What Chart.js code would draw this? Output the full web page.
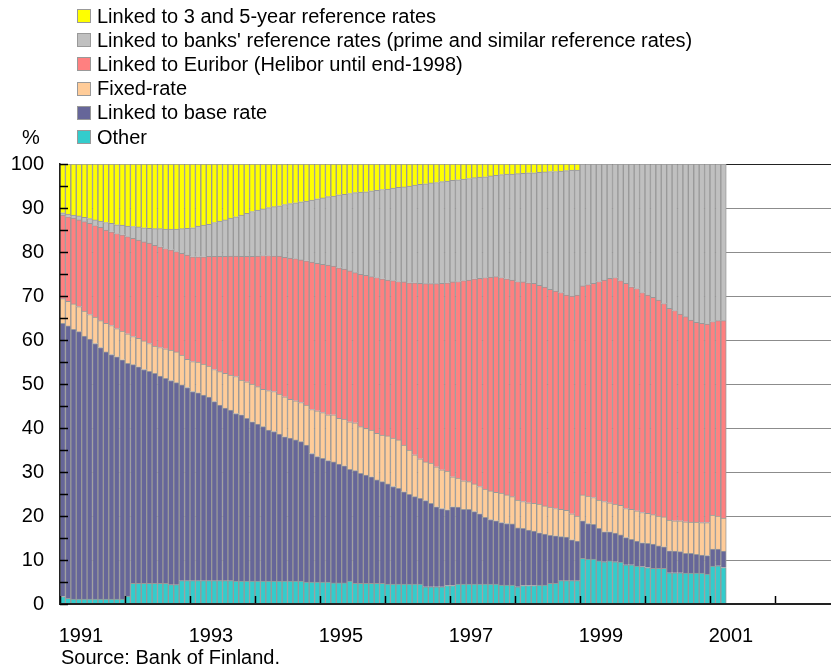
<!DOCTYPE html>
<html>
<head>
<meta charset="utf-8">
<script src="https://cdn.jsdelivr.net/npm/chart.js@4/dist/chart.umd.min.js"></script>
<style>
  html, body { margin: 0; padding: 0; background: #fff; overflow: hidden; }
  body { width: 831px; height: 670px; position: relative; font-family: "Liberation Sans", Arial, sans-serif; color: #000; }
  #chart { position: absolute; left: 0; top: 0; }
  #legend { position: absolute; left: 77px; top: 4px; font-size: 20px; }
  .item { display: flex; align-items: center; height: 24.2px; white-space: nowrap; }
  .box { width: 12px; height: 12px; border: 1px solid #999; margin-right: 6px; flex: none; }
  #unit { position: absolute; left: 22px; top: 125px; font-size: 20px; line-height: 24px; }
  #source { position: absolute; left: 61px; top: 645px; font-size: 20px; line-height: 24px; white-space: nowrap; }
</style>
</head>
<body>
<canvas id="chart" width="845" height="670"></canvas>
<div id="legend"></div>
<div id="unit">%</div>
<div id="source">Source: Bank of Finland.</div>
<script>
// months on the axis: Jan 1991 .. Dec 2002 (data runs to Mar 2001)
const months = [];
for (let y = 1991; y <= 2002; y++) {
  for (let m = 1; m <= 12; m++) months.push(y + "-" + String(m).padStart(2, "0"));
}
const yearTicks = ["1991", "1993", "1995", "1997", "1999", "2001"];

// shares of stock, % (monthly)
const other = [
  1.7,1.3,1.1,1.1,1.1,1.1,1.1,1.1,1.1,1.1,1.1,1.1,
  1.8,4.7,4.7,4.7,4.7,4.7,4.7,4.7,4.4,4.4,5.3,5.3,
  5.3,5.3,5.3,5.3,5.3,5.3,5.3,5.3,5.2,5.2,5.2,5.2,
  5.2,5.2,5.2,5.2,5.2,5.2,5.2,5.2,5.2,5.0,5.0,5.0,
  5.0,5.0,4.8,4.8,4.8,5.2,4.7,4.7,4.7,4.7,4.7,4.7,
  4.5,4.5,4.5,4.5,4.5,4.5,4.5,3.9,3.9,3.9,3.9,4.2,
  4.2,4.5,4.5,4.5,4.5,4.5,4.5,4.5,4.5,4.3,4.3,4.3,
  3.9,4.2,4.2,4.2,4.3,4.3,4.7,4.7,5.3,5.3,5.3,5.3,
  10.4,10.2,10.2,9.8,9.6,9.8,9.6,9.5,8.9,8.9,8.6,8.5,
  8.3,8.1,8.1,8.1,7.1,7.1,7.1,7.0,7.0,7.0,7.0,6.8,
  8.6,8.7,8.3
];
const baseRate = [
  62.1,61.9,61.3,60.8,59.8,59.1,58.1,57.2,56.2,55.6,55.1,54.4,
  52.9,49.7,49.2,48.6,48.2,47.7,47.1,46.6,46.4,45.9,44.5,43.9,
  43.0,42.7,42.2,41.7,40.7,39.9,39.2,38.8,38.1,37.8,37.0,36.2,
  35.7,35.1,34.3,34.0,33.4,32.8,32.5,32.1,31.7,31.1,29.2,28.5,
  28.1,27.6,27.5,27.0,26.6,25.4,25.6,25.0,24.6,24.2,23.5,23.1,
  22.8,22.2,21.8,21.0,20.4,19.9,19.5,19.6,19.0,18.2,17.8,17.2,
  17.9,17.5,17.0,17.0,16.5,16.0,15.2,14.7,14.4,14.2,14.0,13.9,
  13.4,13.0,12.6,12.4,11.9,11.6,10.9,10.8,10.0,9.9,9.3,9.0,
  8.5,8.1,7.9,7.4,6.8,6.6,6.5,6.2,6.2,5.8,5.7,5.4,
  5.5,5.5,5.1,4.9,5.0,4.9,4.8,4.5,4.5,4.3,4.1,4.2,
  3.9,3.8,3.7
];
const fixedRate = [
  5.6,5.6,5.8,5.7,5.7,5.6,6.0,6.1,6.5,6.6,6.4,6.5,
  6.7,6.4,6.5,6.5,6.3,6.2,6.5,6.7,6.9,7.0,6.8,6.4,
  6.8,7.0,7.0,7.1,7.3,7.6,7.9,7.9,8.4,7.9,8.3,8.6,
  8.5,8.5,9.0,9.1,9.1,9.1,8.8,8.9,8.9,9.1,10.0,10.4,
  10.4,10.4,10.7,10.4,10.6,10.8,10.9,10.6,10.6,10.6,10.6,10.6,
  10.9,11.0,11.0,10.6,10.1,9.5,9.0,8.8,9.1,9.1,8.8,8.8,
  6.8,6.6,6.5,6.3,6.3,6.2,6.4,6.5,6.5,6.7,6.5,6.2,
  6.3,6.1,6.2,6.3,6.5,6.4,6.4,6.2,6.2,6.1,5.9,5.7,
  5.9,6.2,6.1,6.4,6.9,6.6,6.6,6.7,6.6,6.8,6.9,6.9,
  6.8,6.7,6.8,6.8,7.0,6.9,7.0,7.2,7.1,7.3,7.4,7.5,
  7.7,7.5,7.5
];
const euribor = [
  19.0,19.2,19.5,19.7,20.3,20.7,20.8,21.2,21.2,21.3,21.6,21.9,
  22.1,22.3,22.3,22.5,22.8,22.9,22.9,22.8,22.8,22.8,23.1,23.7,
  23.8,23.9,24.4,24.9,25.7,26.2,26.6,27.1,27.4,28.1,28.5,29.0,
  29.7,30.4,30.7,30.8,31.4,31.7,32.1,32.3,32.4,32.8,33.5,33.5,
  33.7,34.0,33.8,34.2,34.1,34.3,34.1,34.6,34.8,34.9,35.4,35.5,
  35.4,35.8,36.0,37.1,38.0,39.1,39.9,40.5,40.8,41.6,42.4,42.8,
  44.3,44.7,45.5,45.8,46.6,47.3,48.1,48.6,49.0,49.0,49.1,49.2,
  49.7,49.9,50.0,50.0,49.7,49.7,49.5,49.4,49.3,48.9,49.5,50.2,
  47.5,48.1,48.7,49.7,50.3,51.0,51.5,51.1,51.2,50.6,50.5,50.0,
  49.6,49.4,49.1,48.5,48.1,47.8,47.0,46.6,45.9,45.4,45.3,45.1,
  44.0,44.4,44.9
];
const banksRef = [
  0.5,0.6,0.7,0.9,1.0,1.1,1.3,1.4,1.7,1.9,2.0,2.2,
  2.4,2.7,3.0,3.2,3.4,3.8,4.1,4.4,4.7,5.1,5.6,6.1,
  6.6,7.0,7.2,7.3,7.7,8.0,8.3,8.6,8.9,9.4,9.8,10.2,
  10.4,10.6,10.9,11.2,11.4,12.0,12.4,12.7,13.2,13.6,14.1,14.7,
  15.1,15.6,15.9,16.6,17.0,17.6,18.2,18.7,19.0,19.5,19.8,20.3,
  20.7,21.0,21.4,21.6,22.0,22.2,22.5,22.7,22.9,23.0,23.1,23.1,
  23.1,23.1,23.1,23.1,23.0,23.0,22.9,23.0,23.0,23.4,23.8,24.1,
  24.5,24.7,25.0,25.1,25.7,26.2,26.8,27.2,27.6,28.3,28.6,28.4,
  27.7,27.4,27.1,26.7,26.4,26.0,25.8,26.5,27.1,27.9,28.3,29.2,
  29.8,30.3,30.9,31.7,32.8,33.3,34.1,34.7,35.5,36.0,36.2,36.4,
  35.8,35.6,35.6
];
const threeFiveYear = [
  11.1,11.4,11.6,11.8,12.1,12.4,12.7,13.0,13.3,13.5,13.8,13.9,
  14.1,14.2,14.3,14.5,14.6,14.7,14.7,14.8,14.8,14.8,14.7,14.6,
  14.5,14.1,13.9,13.7,13.3,13.0,12.7,12.3,12.0,11.6,11.2,10.8,
  10.5,10.2,9.9,9.7,9.5,9.2,9.0,8.8,8.6,8.4,8.2,7.9,
  7.7,7.4,7.3,7.0,6.9,6.7,6.5,6.4,6.3,6.1,6.0,5.8,
  5.7,5.5,5.3,5.2,5.0,4.8,4.6,4.5,4.3,4.2,4.0,3.9,
  3.7,3.6,3.4,3.3,3.1,3.0,2.9,2.7,2.6,2.4,2.3,2.3,
  2.2,2.1,2.0,2.0,1.9,1.8,1.7,1.7,1.6,1.5,1.4,1.4
];

const FONT = { family: "'Liberation Sans', Arial, sans-serif", size: 20 };

function bars(label, data, color) {
  return {
    label: label,
    data: data,
    backgroundColor: color,
    borderColor: "#999999",
    borderWidth: 1,
    barPercentage: 1,
    categoryPercentage: 1,
  };
}

const isJanuary = (i) => i !== undefined && months[i] !== undefined && months[i].endsWith("-01");

const chart = new Chart(document.getElementById("chart"), {
  type: "bar",
  data: {
    labels: months,
    datasets: [
      bars("Other", other, "#33CCCC"),
      bars("Linked to base rate", baseRate, "#666699"),
      bars("Fixed-rate", fixedRate, "#FFCC99"),
      bars("Linked to Euribor (Helibor until end-1998)", euribor, "#FF8080"),
      bars("Linked to banks' reference rates (prime and similar reference rates)", banksRef, "#C0C0C0"),
      bars("Linked to 3 and 5-year reference rates", threeFiveYear, "#FFFF00"),
    ],
  },
  options: {
    responsive: false,
    animation: false,
    devicePixelRatio: 1,
    layout: { padding: { top: 164, right: 5, bottom: 0, left: 0 } },
    plugins: { legend: { display: false }, tooltip: { enabled: false } },
    scales: {
      x: {
        stacked: true,
        offset: true,
        afterFit: (s) => {
          s.height = 66;
          s.paddingLeft = 0;
          s.paddingRight = 0;
        },
        grid: {
          offset: true,
          drawOnChartArea: false,
          tickLength: -8,
          tickWidth: 1.5,
          tickColor: (ctx) => (isJanuary(ctx.index) ? "#000" : "rgba(0,0,0,0)"),
          z: 1,
        },
        border: { color: "#222", width: 2, z: 1 },
        ticks: {
          autoSkip: false,
          maxRotation: 0,
          minRotation: 0,
          align: "start",
          labelOffset: -4,
          padding: 28,
          color: "#000",
          font: FONT,
          callback: (value, index) => {
            const y = months[index].slice(0, 4);
            return isJanuary(index) && yearTicks.includes(y) ? y : "";
          },
        },
      },
      y: {
        stacked: true,
        position: "left",
        weight: 1,
        min: 0,
        max: 100,
        afterFit: (s) => { s.width = 60; },
        grid: {
          drawTicks: false,
          lineWidth: 1,
          color: (ctx) => {
            const v = ctx.tick ? ctx.tick.value : null;
            if (v === 0) return "rgba(0,0,0,0)";
            return v === 100 ? "#222" : "#8c8c8c";
          },
        },
        border: { color: "#222", width: 1.5, z: 1 },
        ticks: { stepSize: 10, padding: 16, color: "#000", font: FONT },
      },
      // inward minor tick marks every 5 %, drawn over the bars
      yMinor: {
        type: "linear",
        position: "left",
        weight: 0,
        min: 0,
        max: 100,
        afterFit: (s) => { s.width = 0; },
        grid: { drawOnChartArea: false, tickLength: -8, tickWidth: 1.5, tickColor: "#000", z: 1 },
        border: { display: false },
        ticks: { display: false, stepSize: 5 },
      },
    },
  },
});

// legend (top to bottom = top of the stack first)
const legendEl = document.getElementById("legend");
chart.data.datasets.slice().reverse().forEach((ds) => {
  const row = document.createElement("div");
  row.className = "item";
  const box = document.createElement("span");
  box.className = "box";
  box.style.background = ds.backgroundColor;
  row.appendChild(box);
  row.appendChild(document.createTextNode(ds.label));
  legendEl.appendChild(row);
});
</script>
</body>
</html>
